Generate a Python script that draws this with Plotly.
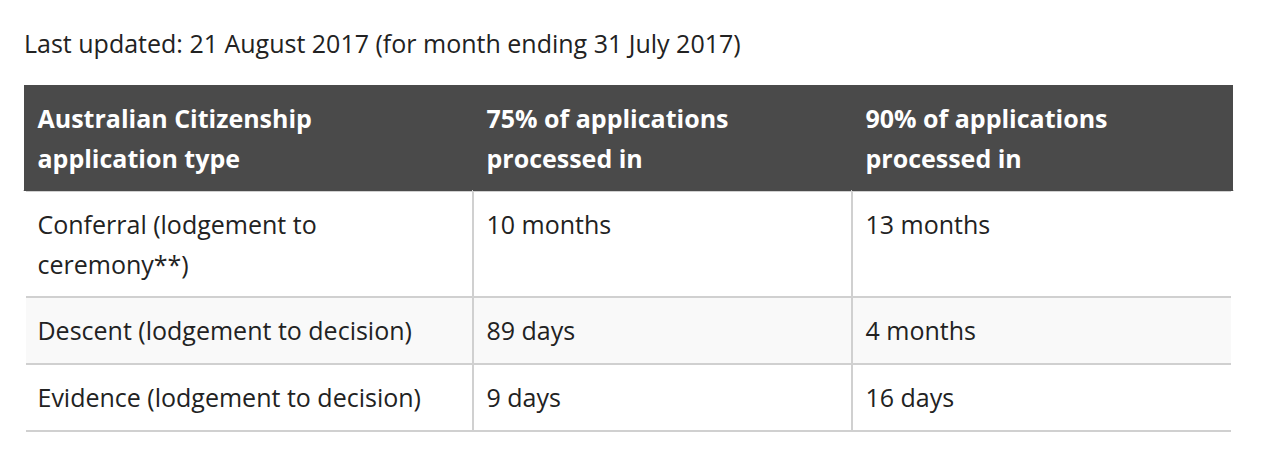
import plotly.graph_objects as go

# processing times, month ending 31 July 2017
last_updated = "Last updated: 21 August 2017 (for month ending 31 July 2017)"
headers = ["Australian Citizenship<br>application type",
           "75% of applications<br>processed in",
           "90% of applications<br>processed in"]
app_types = ["Conferral (lodgement to<br>ceremony**)",
             "Descent (lodgement to decision)",
             "Evidence (lodgement to decision)"]
pct_75 = ["10 months", "89 days", "9 days"]
pct_90 = ["13 months", "4 months", "16 days"]

head_bg = "#4a4a4a"
rule = "#d0d0d0"
text_col = "#222222"
col_w = [449, 379, 381]

# plotly tables have no line-height or valign, so the text sits in a
# smaller span inside a larger base font (base font sets the line pitch)
# and a thin spacer on every line pushes the first baseline down a bit
BASE = 31
PLOT_H = 374      # 451 minus top margin
TOP_H = 212       # header + first row
EMPTY_HEAD = 16   # plotly keeps 2*cellPad for an empty header


def styled(s, size=25, lift=33):
    pad = f"<span style='font-size:{lift}px'>\u2009</span>"
    lines = s.split("<br>")
    html = "<br>".join(f"{pad}<span style='font-size:{size}px'>{ln}</span>" for ln in lines)
    if len(lines) == 1:
        html += "<br>"  # stops plotly re-wrapping the text at spaces
    return html


def col(vals):
    return [styled(v) for v in vals]


cell_font = dict(family="Open Sans", size=BASE, color=text_col)

# header + first (two-line) row
top = go.Table(
    columnwidth=col_w,
    header=dict(
        values=[styled(h) for h in headers],
        height=106,
        fill_color=head_bg,
        line=dict(color=head_bg, width=0),
        align="left",
        font=dict(family="Open Sans", size=BASE, color="white", weight=700),
    ),
    cells=dict(
        values=[col(app_types[:1]), col(pct_75[:1]), col(pct_90[:1])],
        height=106,
        fill_color="white",
        line=dict(color=rule, width=2),
        align="left",
        font=cell_font,
    ),
    domain=dict(x=[0, 1], y=[1 - TOP_H / PLOT_H, 1]),
)

# remaining single-line rows
rest = go.Table(
    columnwidth=col_w,
    header=dict(values=[], height=0, line=dict(width=0), fill_color="rgba(0,0,0,0)"),
    cells=dict(
        values=[col(app_types[1:]), col(pct_75[1:]), col(pct_90[1:])],
        height=67,
        fill_color=[["#f9f9f9", "#ffffff"]] * 3,
        line=dict(color=rule, width=2),
        align="left",
        font=cell_font,
    ),
    domain=dict(x=[0, 1], y=[0, 1 - (TOP_H - EMPTY_HEAD) / PLOT_H]),
)

fig = go.Figure([top, rest])

fig.update_layout(
    width=1280, height=451,
    margin=dict(l=16, r=55, t=77, b=0),
    paper_bgcolor="white",
    title=dict(text=last_updated, x=16 / 1280, xanchor="left",
               y=1 - 36 / 451, yanchor="middle",
               font=dict(family="Open Sans", size=25, color=text_col)),
    # hide the outer left/right cell borders, the page has none
    shapes=[dict(type="line", xref="paper", yref="paper", x0=xx, x1=xx, y0=0, y1=1 - 106 / PLOT_H,
                 line=dict(color="white", width=4)) for xx in (0, 1)],
)

fig.write_html("out.html")
